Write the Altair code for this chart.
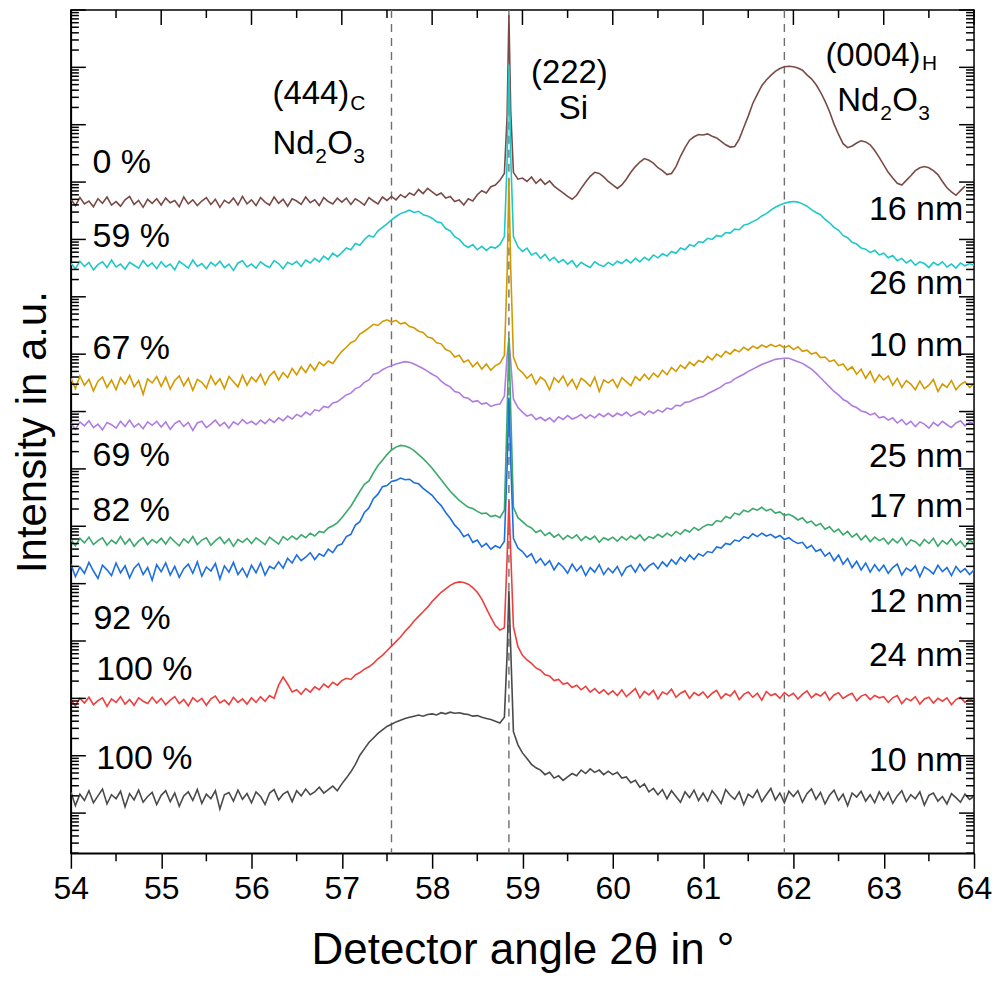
import altair as alt
import pandas as pd

FONT = "Liberation Sans"
W, H = 905, 845

# 2-theta sampling grid (deg); finer around the Si (222) reflection
angle = ([round(54.00 + 0.05 * i, 2) for i in range(97)]
         + [58.83, 58.85, 58.87]
         + [round(58.90 + 0.05 * i, 2) for i in range(103)])

series_names = ["0 %", "59 %", "67 %", "69 %", "82 %", "92 %", "100 % (24 nm)", "100 % (10 nm)"]
series_colors = ["#7a4a47", "#1fc8c8", "#d39a00", "#b07ce0", "#3aa96b", "#1d6fe0", "#ef3e3e", "#4a4a4a"]
# vertical stacking offsets (log10 of intensity)
series_offset = [11.65, 10.55, 8.50, 7.77, 5.73, 5.24, 2.95, 1.27]

# log10 intensity relative to each curve's baseline
brown = [
    0.05, -0.06, 0.08, -0.03, 0.02, -0.08, 0.06, -0.02, 0.09, -0.05, 0.01, -0.07, 0.04, 0.10, -0.04, 0.03, -0.09, 0.05, -0.02, 0.06,
    -0.05, 0.07, -0.01, 0.03, -0.08, 0.09, -0.03, 0.04, -0.06, 0.02, 0.08, -0.04, 0.05, -0.09, 0.03, -0.02, 0.07, -0.05, 0.10, -0.03,
    0.04, -0.06, 0.08, 0.00, -0.05, 0.09, -0.02, 0.05, -0.07, 0.06, 0.02, -0.04, 0.09, -0.01, 0.04, -0.06, 0.08, 0.01, -0.03, 0.07,
    0.00, 0.07, -0.04, 0.06, 0.01, -0.05, 0.08, 0.02, -0.03, 0.09, 0.03, 0.10, 0.04, 0.13, 0.08, 0.16, 0.12, 0.22, 0.15, 0.24,
    0.18, 0.12, 0.16, 0.07, 0.10, 0.01, 0.04, -0.05, 0.06, 0.02, 0.13, 0.20, 0.16, 0.27, 0.30, 0.38, 0.50,
    1.5, 3.26, 1.6,
    0.52, 0.40,
    0.42, 0.36, 0.44, 0.33, 0.40, 0.31, 0.37, 0.28, 0.22, 0.16, 0.10, 0.05, 0.12, 0.24, 0.35, 0.45, 0.52, 0.50, 0.44, 0.36,
    0.30, 0.24, 0.30, 0.40, 0.52, 0.62, 0.70, 0.76, 0.73, 0.68, 0.60, 0.55, 0.48, 0.50, 0.62, 0.80, 0.95, 1.08, 1.14, 1.18,
    1.17, 1.19, 1.15, 1.12, 1.06, 1.00, 0.96, 0.97, 1.10, 1.30, 1.50, 1.72, 1.88, 2.03, 2.13, 2.21, 2.28, 2.33, 2.36, 2.37,
    2.36, 2.34, 2.30, 2.22, 2.15, 2.05, 1.92, 1.76, 1.58, 1.36, 1.18, 1.02, 0.95, 0.98, 1.03, 1.07, 1.05, 1.00, 0.90, 0.78,
    0.65, 0.52, 0.42, 0.33, 0.30, 0.38, 0.46, 0.55, 0.60, 0.62, 0.60, 0.55, 0.48, 0.36, 0.25, 0.18, 0.12, 0.20, 0.28, None,
    None,
]
cyan = [
    0.03, -0.06, 0.07, -0.02, 0.05, -0.08, 0.01, 0.06, -0.04, 0.09, -0.03, 0.02, -0.07, 0.05, 0.00, -0.05, 0.08, -0.02, 0.04, -0.06,
    0.06, -0.03, 0.02, -0.08, 0.07, 0.01, -0.05, 0.09, -0.02, 0.03, -0.06, 0.05, -0.01, 0.07, -0.04, 0.02, -0.09, 0.04, 0.08, -0.03,
    0.02, -0.05, 0.06, 0.00, -0.04, 0.08, 0.03, -0.06, 0.05, 0.01, 0.07, -0.02, 0.09, 0.04, 0.12, 0.06, 0.16, 0.10, 0.21, 0.15,
    0.22, 0.30, 0.27, 0.38, 0.35, 0.45, 0.52, 0.49, 0.60, 0.66, 0.72, 0.79, 0.85, 0.90, 0.93, 0.96, 0.92, 0.94, 0.88, 0.86,
    0.82, 0.76, 0.74, 0.64, 0.60, 0.50, 0.45, 0.36, 0.31, 0.36, 0.27, 0.33, 0.26, 0.32, 0.30, 0.36, 0.50,
    1.8, 3.5, 1.9,
    0.50, 0.32,
    0.24, 0.30, 0.18, 0.22, 0.12, 0.19, 0.08, 0.14, 0.05, 0.10, 0.02, 0.08, -0.03, 0.05, 0.00, -0.04, 0.06, 0.01, -0.02, 0.05,
    0.00, 0.07, 0.03, 0.10, 0.04, 0.12, 0.06, 0.14, 0.09, 0.18, 0.13, 0.20, 0.16, 0.24, 0.21, 0.30, 0.27, 0.36, 0.33, 0.41,
    0.40, 0.47, 0.45, 0.52, 0.50, 0.57, 0.56, 0.63, 0.62, 0.70, 0.72, 0.76, 0.80, 0.86, 0.90, 0.96, 1.01, 1.05, 1.08, 1.10,
    1.11, 1.10, 1.07, 1.03, 0.97, 0.92, 0.88, 0.80, 0.74, 0.66, 0.61, 0.52, 0.48, 0.40, 0.37, 0.30, 0.28, 0.22, 0.26, 0.18,
    0.21, 0.13, 0.17, 0.08, 0.12, 0.04, 0.09, 0.00, 0.06, 0.03, -0.04, 0.05, 0.00, 0.06, -0.03, 0.02, -0.05, 0.04, -0.01, 0.03,
    0.00,
]
gold = [
    0.08, -0.10, 0.12, -0.04, 0.06, -0.14, 0.03, 0.10, -0.08, 0.05, -0.12, 0.09, -0.02, 0.13, -0.07, 0.04, -0.20, 0.07, 0.00, 0.11,
    -0.06, 0.10, -0.11, 0.04, 0.12, -0.05, 0.08, -0.13, 0.06, 0.01, -0.09, 0.12, -0.03, 0.07, -0.10, 0.11, 0.02, -0.07, 0.13, -0.04,
    0.10, 0.02, 0.15, -0.03, 0.12, 0.20, 0.05, 0.18, 0.09, 0.25, 0.14, 0.28, 0.18, 0.32, 0.22, 0.36, 0.30, 0.38, 0.34, 0.45,
    0.55, 0.62, 0.70, 0.74, 0.85, 0.90, 0.96, 1.02, 1.00, 1.07, 1.10, 1.06, 1.09, 1.03, 1.05, 0.98, 0.96, 0.90, 0.88, 0.80,
    0.78, 0.70, 0.68, 0.58, 0.55, 0.45, 0.48, 0.36, 0.40, 0.28, 0.36, 0.24, 0.33, 0.22, 0.30, 0.34, 0.48,
    1.9, 3.55, 2.0,
    0.45, 0.25,
    0.18, 0.08, 0.15, -0.02, 0.10, 0.04, -0.12, 0.09, 0.01, 0.12, -0.05, 0.06, -0.10, 0.08, 0.02, -0.06, 0.10, -0.15, 0.05, 0.00,
    0.06, -0.08, 0.09, 0.02, -0.05, 0.11, 0.04, 0.15, 0.06, 0.17, 0.10, 0.22, 0.14, 0.27, 0.20, 0.31, 0.25, 0.36, 0.30, 0.39,
    0.36, 0.46, 0.40, 0.50, 0.45, 0.55, 0.50, 0.58, 0.54, 0.62, 0.57, 0.64, 0.60, 0.66, 0.62, 0.67, 0.63, 0.66, 0.61, 0.65,
    0.58, 0.63, 0.55, 0.57, 0.50, 0.53, 0.44, 0.45, 0.37, 0.40, 0.30, 0.33, 0.22, 0.28, 0.15, 0.24, 0.08, 0.20, 0.02, 0.14,
    0.05, 0.12, -0.04, 0.08, -0.08, 0.04, -0.02, -0.12, 0.03, -0.10, -0.04, 0.06, -0.15, -0.02, -0.08, 0.04, -0.12, -0.03, 0.02, -0.08,
    -0.02,
]
purple = [
    0.03, -0.08, 0.05, -0.02, 0.07, -0.05, 0.01, -0.09, 0.04, 0.00, -0.06, 0.06, -0.03, 0.08, -0.04, 0.02, -0.07, 0.05, -0.01, 0.06,
    -0.04, 0.05, -0.08, 0.02, 0.07, -0.03, 0.04, -0.10, 0.03, 0.06, -0.05, 0.01, 0.08, -0.02, 0.04, -0.06, 0.05, 0.00, 0.09, 0.02,
    0.06, 0.00, 0.08, 0.02, 0.10, 0.04, 0.12, 0.07, 0.15, 0.10, 0.18, 0.14, 0.22, 0.17, 0.26, 0.24, 0.32, 0.30, 0.38, 0.40,
    0.46, 0.52, 0.55, 0.63, 0.66, 0.74, 0.78, 0.88, 0.90, 0.96, 1.00, 1.03, 1.06, 1.08, 1.10, 1.09, 1.06, 1.02, 0.98, 0.93,
    0.88, 0.84, 0.76, 0.70, 0.66, 0.58, 0.56, 0.48, 0.46, 0.40, 0.42, 0.36, 0.38, 0.32, 0.35, 0.36, 0.50,
    1.2, 1.5, 1.1,
    0.45, 0.30,
    0.22, 0.15, 0.18, 0.09, 0.13, 0.07, 0.12, 0.05, 0.14, 0.09, 0.16, 0.10, 0.13, 0.18, 0.11, 0.17, 0.12, 0.19, 0.14, 0.20,
    0.14, 0.20, 0.16, 0.22, 0.15, 0.19, 0.23, 0.17, 0.24, 0.20, 0.26, 0.22, 0.29, 0.27, 0.34, 0.33, 0.39, 0.40, 0.44, 0.47,
    0.49, 0.54, 0.58, 0.62, 0.66, 0.72, 0.74, 0.80, 0.84, 0.88, 0.93, 0.97, 1.01, 1.05, 1.08, 1.11, 1.14, 1.15, 1.16, 1.16,
    1.13, 1.10, 1.07, 1.02, 0.97, 0.90, 0.82, 0.74, 0.66, 0.58, 0.52, 0.44, 0.40, 0.33, 0.30, 0.24, 0.22, 0.17, 0.20, 0.12,
    0.14, 0.08, 0.12, 0.03, 0.09, 0.00, 0.06, -0.03, 0.05, 0.01, -0.06, 0.04, -0.02, 0.06, 0.00, -0.05, 0.03, 0.07, -0.02, 0.04,
    0.02,
]
green = [
    0.04, -0.07, 0.06, -0.02, 0.08, -0.05, 0.02, 0.07, -0.06, 0.03, -0.03, 0.09, -0.04, 0.05, -0.08, 0.01, 0.07, -0.05, 0.04, -0.02,
    0.06, -0.04, 0.08, 0.00, -0.07, 0.05, -0.02, 0.09, -0.05, 0.03, 0.07, -0.06, 0.02, 0.08, -0.03, 0.05, -0.08, 0.04, -0.01, 0.06,
    -0.03, 0.07, 0.01, -0.05, 0.08, 0.02, -0.04, 0.09, 0.03, 0.10, 0.04, 0.12, 0.07, 0.15, 0.10, 0.18, 0.16, 0.24, 0.28, 0.33,
    0.42, 0.52, 0.62, 0.75, 0.88, 1.00, 1.06, 1.20, 1.33, 1.42, 1.52, 1.60, 1.65, 1.68, 1.67, 1.64, 1.59, 1.52, 1.45, 1.37,
    1.28, 1.18, 1.08, 0.98, 0.88, 0.80, 0.72, 0.66, 0.60, 0.58, 0.53, 0.49, 0.50, 0.44, 0.46, 0.42, 0.55,
    2.2, 3.55, 2.3,
    0.60, 0.42,
    0.35, 0.28, 0.24, 0.16, 0.20, 0.11, 0.16, 0.08, 0.13, 0.04, 0.11, 0.06, 0.12, 0.02, 0.09, 0.04, 0.10, -0.01, 0.07, 0.03,
    0.08, 0.01, 0.09, 0.03, 0.10, 0.05, 0.12, 0.02, 0.09, 0.06, 0.13, 0.08, 0.15, 0.10, 0.18, 0.13, 0.21, 0.17, 0.25, 0.20,
    0.26, 0.30, 0.29, 0.37, 0.35, 0.44, 0.41, 0.50, 0.47, 0.55, 0.52, 0.58, 0.55, 0.60, 0.54, 0.57, 0.50, 0.52, 0.46, 0.48,
    0.44, 0.38, 0.42, 0.33, 0.36, 0.28, 0.32, 0.22, 0.26, 0.17, 0.22, 0.12, 0.18, 0.08, 0.14, 0.03, 0.11, 0.00, 0.08, 0.02,
    0.06, -0.04, 0.05, -0.02, 0.07, -0.06, 0.03, 0.00, -0.07, 0.04, -0.03, 0.06, -0.08, 0.02, -0.04, 0.05, -0.06, 0.01, -0.09, 0.03,
    -0.02,
]
blue = [
    0.10, -0.12, 0.05, -0.06, 0.13, -0.02, -0.15, 0.08, 0.00, -0.10, 0.12, -0.05, 0.07, -0.14, 0.03, 0.11, -0.08, 0.04, -0.18, 0.09,
    -0.03, 0.12, -0.09, 0.06, -0.13, 0.02, 0.10, -0.06, 0.14, -0.11, 0.05, -0.02, 0.11, -0.16, 0.07, -0.04, 0.13, -0.08, 0.03, -0.12,
    0.08, -0.05, 0.12, -0.09, 0.06, 0.02, 0.14, 0.03, 0.20, 0.12, 0.26, 0.16, 0.22, 0.30, 0.18, 0.28, 0.24, 0.36, 0.30, 0.42,
    0.45, 0.58, 0.62, 0.78, 0.84, 1.00, 1.08, 1.24, 1.32, 1.45, 1.47, 1.54, 1.56, 1.60, 1.57, 1.58, 1.52, 1.50, 1.42, 1.36,
    1.30, 1.20, 1.12, 1.00, 0.90, 0.78, 0.70, 0.58, 0.62, 0.48, 0.52, 0.40, 0.46, 0.36, 0.42, 0.38, 0.50,
    1.8, 3.0, 1.9,
    0.55, 0.38,
    0.32, 0.22, 0.28, 0.12, 0.20, 0.08, 0.16, 0.00, 0.12, 0.05, -0.06, 0.10, -0.02, 0.07, -0.10, 0.04, -0.04, 0.09, -0.08, 0.03,
    -0.05, 0.06, -0.10, 0.04, 0.08, -0.04, 0.10, -0.02, 0.07, 0.12, 0.02, 0.14, 0.06, 0.18, 0.10, 0.22, 0.15, 0.26, 0.18, 0.28,
    0.24, 0.32, 0.30, 0.40, 0.38, 0.46, 0.44, 0.52, 0.50, 0.58, 0.55, 0.63, 0.58, 0.64, 0.59, 0.62, 0.56, 0.60, 0.53, 0.56,
    0.50, 0.46, 0.48, 0.38, 0.43, 0.32, 0.36, 0.24, 0.30, 0.16, 0.26, 0.10, 0.20, 0.04, 0.15, 0.00, 0.12, -0.04, 0.09, -0.02,
    0.08, -0.06, 0.04, 0.10, -0.09, 0.03, -0.02, 0.07, -0.12, 0.05, 0.00, -0.07, 0.08, -0.03, 0.04, -0.10, 0.06, -0.04, 0.02, -0.08,
    0.00,
]
red = [
    0.02, -0.08, 0.05, -0.03, 0.07, -0.06, 0.01, 0.06, -0.09, 0.04, -0.02, 0.08, -0.05, 0.03, -0.07, 0.06, 0.00, -0.04, 0.07, -0.03,
    0.05, -0.06, 0.02, 0.08, -0.04, 0.03, -0.08, 0.06, -0.01, 0.05, -0.07, 0.04, 0.09, -0.03, 0.02, -0.06, 0.07, -0.02, 0.04, -0.05,
    0.06, -0.02, 0.08, 0.00, 0.10, 0.05, 0.28, 0.42, 0.30, 0.16, 0.20, 0.12, 0.22, 0.16, 0.25, 0.20, 0.30, 0.24, 0.33, 0.28,
    0.36, 0.40, 0.38, 0.46, 0.50, 0.56, 0.60, 0.66, 0.74, 0.80, 0.88, 0.96, 1.04, 1.12, 1.22, 1.30, 1.40, 1.48, 1.56, 1.64,
    1.74, 1.82, 1.90, 1.96, 2.02, 2.06, 2.08, 2.07, 2.04, 1.98, 1.90, 1.78, 1.62, 1.46, 1.32, 1.24, 1.28,
    2.5, 3.5, 2.6,
    1.30, 0.95,
    0.80, 0.72, 0.66, 0.58, 0.54, 0.46, 0.44, 0.36, 0.38, 0.30, 0.32, 0.24, 0.28, 0.20, 0.26, 0.16, 0.22, 0.14, 0.20, 0.12,
    0.18, 0.10, 0.20, 0.08, 0.15, 0.22, 0.06, 0.17, 0.11, 0.19, 0.04, 0.16, 0.12, 0.21, 0.07, 0.14, 0.18, 0.05, 0.15, 0.10,
    0.16, 0.06, 0.14, 0.19, 0.05, 0.13, 0.09, 0.18, 0.03, 0.12, 0.16, 0.07, 0.14, 0.02, 0.17, 0.10, 0.13, 0.05, 0.15, 0.09,
    0.14, 0.04, 0.12, 0.18, 0.06, 0.13, 0.09, 0.16, 0.02, 0.11, 0.15, 0.05, 0.10, 0.14, 0.01, 0.09, 0.12, 0.03, 0.10, 0.06,
    0.08, -0.02, 0.06, 0.10, -0.04, 0.05, 0.01, 0.08, -0.05, 0.04, 0.07, -0.03, 0.05, 0.00, 0.06, -0.06, 0.03, 0.07, -0.02, 0.04,
    0.00,
]
gray = [
    0.10, -0.14, 0.06, -0.05, 0.12, -0.09, 0.03, 0.15, -0.11, 0.05, -0.02, 0.11, -0.16, 0.07, -0.04, 0.13, -0.08, 0.02, 0.09, -0.12,
    0.04, 0.12, -0.07, 0.08, -0.15, 0.03, 0.10, -0.05, 0.14, -0.10, 0.06, -0.02, 0.12, -0.20, 0.05, 0.09, -0.06, 0.13, -0.03, 0.07,
    -0.09, 0.10, 0.02, -0.12, 0.08, 0.14, -0.04, 0.06, 0.11, -0.07, 0.12, 0.03, 0.15, 0.05, 0.10, 0.18, 0.08, 0.14, 0.20, 0.12,
    0.24, 0.34, 0.45, 0.58, 0.74, 0.85, 0.96, 1.04, 1.12, 1.18, 1.24, 1.28, 1.32, 1.35, 1.38, 1.40, 1.42, 1.44, 1.42, 1.45,
    1.46, 1.44, 1.48, 1.46, 1.49, 1.47, 1.48, 1.46, 1.45, 1.42, 1.43, 1.40, 1.38, 1.36, 1.33, 1.30, 1.40,
    2.5, 3.6, 2.6,
    1.15, 0.92,
    0.78, 0.68, 0.58, 0.52, 0.48, 0.40, 0.44, 0.34, 0.38, 0.30, 0.36, 0.42, 0.38, 0.48, 0.42, 0.50, 0.44, 0.48, 0.40, 0.46,
    0.40, 0.44, 0.34, 0.36, 0.26, 0.30, 0.18, 0.24, 0.10, 0.16, 0.05, 0.14, -0.02, 0.12, 0.02, -0.08, 0.10, 0.00, 0.13, -0.05,
    0.08, -0.06, 0.12, 0.02, -0.10, 0.14, 0.04, -0.03, 0.10, -0.12, 0.06, 0.00, 0.13, -0.07, 0.05, 0.16, -0.04, 0.08, -0.09, 0.11,
    0.02, 0.12, -0.08, 0.07, 0.15, -0.03, 0.09, -0.11, 0.04, 0.13, -0.05, 0.06, -0.14, 0.08, 0.01, 0.11, -0.06, 0.05, -0.09, 0.10,
    -0.04, 0.09, -0.10, 0.03, 0.12, -0.07, 0.05, -0.02, 0.10, -0.13, 0.04, 0.08, -0.06, 0.02, -0.11, 0.07, 0.00, -0.08, 0.06, -0.03,
    0.02,
]
curves = [brown, cyan, gold, purple, green, blue, red, gray]

# reference positions of reflections (deg)
reflection_pos = [57.55, 58.85, 61.9]

# left / right annotations: text, x (deg), y (log10 intensity)
left_text = ["0 %", "59 %", "67 %", "69 %", "82 %", "92 %", "100 %", "100 %"]
left_x = [54.24, 54.24, 54.24, 54.24, 54.24, 54.25, 54.28, 54.28]
left_y = [12.34, 11.04, 9.09, 7.22, 6.27, 4.39, 3.50, 1.94]
right_text = ["16 nm", "26 nm", "10 nm", "25 nm", "17 nm", "12 nm", "24 nm", "10 nm"]
right_x = [63.88] * 8
right_y = [11.52, 10.22, 9.15, 7.21, 6.34, 4.68, 3.73, 1.90]

# peak labels (pieces, to allow subscripts): text, x (deg, left edge), y (log10), font size
peak_text = ["(444)", "C", "Nd", "2", "O", "3",
             "(222)", "Si",
             "(0004)", "H", "Nd", "2", "O", "3"]
peak_x = [56.232, 57.094, 56.232, 56.707, 56.840, 57.127,
          59.094, 59.403,
          62.354, 63.425, 62.486, 62.961, 63.094, 63.381]
peak_y = [13.54, 13.36, 12.67, 12.44, 12.67, 12.44,
          13.90, 13.28,
          14.20, 14.06, 13.42, 13.19, 13.42, 13.19]
peak_size = [33, 21, 33, 21, 33, 21,
             33, 33,
             33, 21, 33, 21, 33, 21]

# axis ticks
x_major = list(range(54, 65))
x_minor = [54.5, 55.5, 56.5, 57.5, 58.5, 59.5, 60.5, 61.5, 62.5, 63.5]
y_major = [10.0 ** n for n in range(1, 16)]
y_minor = [k * 10.0 ** n for n in range(0, 15) for k in range(2, 10) if k * 10.0 ** n > 10 ** 0.3]

rows = []
for name, off, vals in zip(series_names, series_offset, curves):
    assert len(vals) == len(angle), (name, len(vals), len(angle))
    for a, v in zip(angle, vals):
        if v is None:
            continue
        rows.append({"series": name, "angle": a, "intensity": 10 ** (off + v)})
df = pd.DataFrame(rows)

xs = alt.Scale(domain=[54, 64], nice=False, zero=False)
ys = alt.Scale(type="log", domain=[10 ** 0.3, 1e15], nice=False)

x_axis = alt.Axis(values=x_major, format="d", tickSize=15, tickWidth=1.5, tickColor="black",
                  domainWidth=1.5, domainColor="black", labelFont=FONT, labelFontSize=32,
                  labelColor="black", labelPadding=5, labelFlush=False, labelOverlap=False,
                  title="Detector angle 2θ in °", titleFont=FONT, titleFontSize=44,
                  titleFontWeight="normal", titleColor="black", titlePadding=24, grid=False)
y_axis = alt.Axis(labels=False, ticks=False, grid=False, domainWidth=1.5, domainColor="black",
                  title="Intensity in a.u.", titleFont=FONT, titleFontSize=42,
                  titleFontWeight="normal", titleColor="black", titlePadding=16)


def X(field):
    return alt.X(field, scale=xs, axis=x_axis)


def Y(field):
    return alt.Y(field, scale=ys, axis=y_axis)


layers = []
# dashed reference lines
layers.append(
    alt.Chart(pd.DataFrame({"pos": reflection_pos}))
    .mark_rule(color="#6f6f6f", strokeWidth=1.4, strokeDash=[8, 6])
    .encode(x=X("pos:Q"))
)
# curves (drawn in order, later ones on top)
for name, col in zip(series_names, series_colors):
    layers.append(
        alt.Chart(df[df["series"] == name])
        .mark_line(color=col, strokeWidth=1.6, clip=True)
        .encode(x=X("angle:Q"), y=Y("intensity:Q"))
    )


# ticks drawn as rules (inward on left/right/top, minor outward at bottom)
def ytick(values, x0, x1):
    return (alt.Chart(pd.DataFrame({"v": values}))
            .mark_rule(color="black", strokeWidth=1.5)
            .encode(y=Y("v:Q"), x=alt.value(x0), x2=alt.value(x1)))


def xtick(values, y0, y1):
    return (alt.Chart(pd.DataFrame({"v": values}))
            .mark_rule(color="black", strokeWidth=1.5)
            .encode(x=X("v:Q"), y=alt.value(y0), y2=alt.value(y1)))


layers += [
    ytick(y_major, 0, 15), ytick(y_minor, 0, 8),
    ytick(y_major, W, W - 15), ytick(y_minor, W, W - 8),
    xtick(x_major, 0, 15), xtick(x_minor, 0, 8),
    xtick(x_minor, H, H + 8),
]

# text annotations
left_df = pd.DataFrame({"t": left_text, "x": left_x, "y": [10 ** v for v in left_y]})
right_df = pd.DataFrame({"t": right_text, "x": right_x, "y": [10 ** v for v in right_y]})
peak_df = pd.DataFrame({"t": peak_text, "x": peak_x, "y": [10 ** v for v in peak_y], "s": peak_size})

layers.append(
    alt.Chart(left_df).mark_text(align="left", baseline="middle", font=FONT, fontSize=34, color="black")
    .encode(x=X("x:Q"), y=Y("y:Q"), text="t:N")
)
layers.append(
    alt.Chart(right_df).mark_text(align="right", baseline="middle", font=FONT, fontSize=34, color="black")
    .encode(x=X("x:Q"), y=Y("y:Q"), text="t:N")
)
layers.append(
    alt.Chart(peak_df).mark_text(align="left", baseline="middle", font=FONT, color="black")
    .encode(x=X("x:Q"), y=Y("y:Q"), text="t:N",
            size=alt.Size("s:Q", scale=None, legend=None))
)

chart = (
    alt.layer(*layers)
    .properties(width=W, height=H, padding={"left": 4, "top": 0, "right": 0, "bottom": 0})
    .configure_view(stroke="black", strokeWidth=1.5)
)

chart.save("out.html", embed_options={"renderer": "svg", "actions": False})
